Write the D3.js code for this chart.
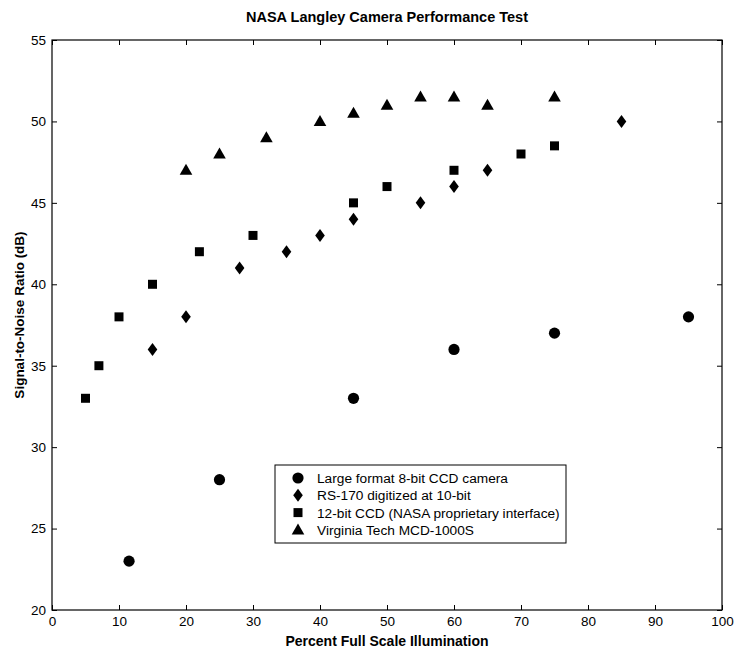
<!DOCTYPE html>
<html><head><meta charset="utf-8">
<script src="https://cdn.jsdelivr.net/npm/d3@7"></script>
<style>body{margin:0;background:#fff;} text{font-family:"Liberation Sans",Arial,sans-serif;}</style>
</head><body>
<svg id="c" width="735" height="656"></svg>
<script>
const title = "NASA Langley Camera Performance Test";
const xLabel = "Percent Full Scale Illumination";
const yLabel = "Signal-to-Noise Ratio (dB)";
const xTicks = [0,10,20,30,40,50,60,70,80,90,100];
const yTicks = [20,25,30,35,40,45,50,55];
const seriesNames = ["Large format 8-bit CCD camera","RS-170 digitized at 10-bit","12-bit CCD (NASA proprietary interface)","Virginia Tech MCD-1000S"];
const largeX = [11.5,25,45,60,75,95];
const largeY = [23,28,33,36,37,38];
const rsX = [15,20,28,35,40,45,55,60,65,85];
const rsY = [36,38,41,42,43,44,45,46,47,50];
const ccdX = [5,7,10,15,22,30,45,50,60,70,75];
const ccdY = [33,35,38,40,42,43,45,46,47,48,48.5];
const vtX = [20,25,32,40,45,50,55,60,65,75];
const vtY = [47,48,49,50,50.5,51,51.5,51.5,51,51.5];

const svg = d3.select("#c");
const L=52,R=722,T=40,B=610;
const x = d3.scaleLinear().domain([0,100]).range([L,R]);
const y = d3.scaleLinear().domain([20,55]).range([B,T]);

const shapes = {
  circle:{draw(c){c.moveTo(5.6,0);c.arc(0,0,5.6,0,2*Math.PI);}},
  diamond:{draw(c){c.moveTo(0,-6.5);c.lineTo(4.8,0);c.lineTo(0,6.5);c.lineTo(-4.8,0);c.closePath();}},
  square:{draw(c){c.moveTo(-4.5,-4.5);c.lineTo(4.5,-4.5);c.lineTo(4.5,4.5);c.lineTo(-4.5,4.5);c.closePath();}},
  triangle:{draw(c){c.moveTo(0,-6.5);c.lineTo(6.3,4.5);c.lineTo(-6.3,4.5);c.closePath();}}
};
const series = [
  {name:seriesNames[0],xs:largeX,ys:largeY,shape:shapes.circle},
  {name:seriesNames[1],xs:rsX,ys:rsY,shape:shapes.diamond},
  {name:seriesNames[2],xs:ccdX,ys:ccdY,shape:shapes.square},
  {name:seriesNames[3],xs:vtX,ys:vtY,shape:shapes.triangle}
];

// axes
const tl=5;
svg.append("g").attr("transform",`translate(0,${B})`)
  .call(d3.axisBottom(x).tickValues(xTicks).tickSizeInner(-tl).tickSizeOuter(0).tickPadding(6))
  .call(g=>{g.select(".domain").remove();g.selectAll("text").attr("font-size",13.5).attr("fill","#000");g.selectAll("line").attr("stroke","#000");});
svg.append("g").attr("transform",`translate(0,${T})`)
  .call(d3.axisTop(x).tickValues(xTicks).tickSizeInner(-tl).tickSizeOuter(0).tickFormat(""))
  .call(g=>{g.select(".domain").remove();g.selectAll("line").attr("stroke","#000");});
svg.append("g").attr("transform",`translate(${L},0)`)
  .call(d3.axisLeft(y).tickValues(yTicks).tickSizeInner(-tl).tickSizeOuter(0).tickPadding(6))
  .call(g=>{g.select(".domain").remove();g.selectAll("text").attr("font-size",13.5).attr("fill","#000");g.selectAll("line").attr("stroke","#000");});
svg.append("g").attr("transform",`translate(${R},0)`)
  .call(d3.axisRight(y).tickValues(yTicks).tickSizeInner(-tl).tickSizeOuter(0).tickFormat(""))
  .call(g=>{g.select(".domain").remove();g.selectAll("line").attr("stroke","#000");});
svg.append("rect").attr("x",L).attr("y",T).attr("width",R-L).attr("height",B-T)
  .attr("fill","none").attr("stroke","#000").attr("stroke-width",1.2);

// markers
series.forEach(s=>{
  const sym = d3.symbol().type(s.shape);
  svg.append("g").selectAll("path").data(s.xs.map((v,i)=>[v,s.ys[i]])).join("path")
    .attr("d",sym).attr("transform",d=>`translate(${x(d[0])},${y(d[1])})`).attr("fill","#000");
});

// labels
svg.append("text").attr("x",(L+R)/2).attr("y",22).attr("text-anchor","middle")
  .attr("font-size",14.5).attr("font-weight","bold").text(title);
svg.append("text").attr("x",(L+R)/2).attr("y",646).attr("text-anchor","middle")
  .attr("font-size",14).attr("font-weight","bold").text(xLabel);
svg.append("text").attr("transform",`translate(24,315) rotate(-90)`).attr("text-anchor","middle")
  .attr("font-size",13.5).attr("font-weight","bold").text(yLabel);

// legend
const lg = svg.append("g");
lg.append("rect").attr("x",275).attr("y",465).attr("width",291).attr("height",78)
  .attr("fill","#fff").attr("stroke","#000").attr("stroke-width",1);
series.forEach((s,i)=>{
  const yy = 478+i*17.3;
  lg.append("path").attr("d",d3.symbol().type(s.shape)).attr("transform",`translate(298,${yy})`).attr("fill","#000");
  lg.append("text").attr("x",317).attr("y",yy+5).attr("font-size",13.7).text(s.name);
});
</script>
</body></html>
